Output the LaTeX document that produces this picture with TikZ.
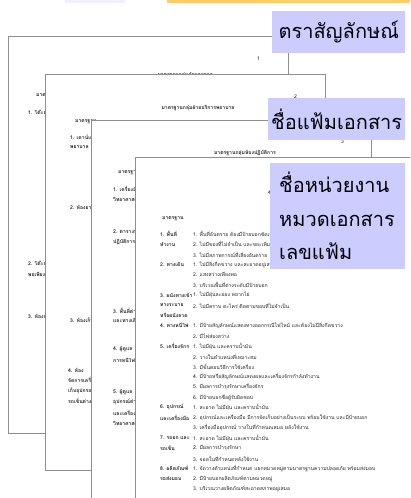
\documentclass[tikz,border=0pt]{standalone}
\usepackage{fontspec}
\newfontfamily\thaifont[Script=Thai]{Loma}
\definecolor{tagblue}{HTML}{CCCCFF}
\definecolor{bandyellow}{HTML}{FFCC66}
\definecolor{pageline}{HTML}{8E8E8E}

\begin{document}
\begin{tikzpicture}[x=1pt, y=-1pt,
  page/.style={shape=rectangle, draw=pageline, line width=1pt, fill=white, minimum width=280pt, anchor=north west, inner sep=0pt},
  small/.style={anchor=west, inner sep=0pt, text=black!85, font=\thaifont\fontsize{5.1}{5.5}\selectfont},
  smallb/.style={small, font=\thaifont\bfseries\fontsize{5.1}{5.5}\selectfont},
  tag/.style={shape=rectangle, fill=tagblue, anchor=north west, inner sep=0pt, align=left, font=\thaifont\fontsize{20}{33.5}\selectfont}]
\useasboundingbox (0,0) rectangle (410,498);
\clip (0,0) rectangle (410,498);

\fill[bandyellow] (167,0) rectangle (410,3);
\fill[blue!6!white] (65,0) rectangle (125,3);

% first sheet
\node [page, minimum height=397pt] (P1) at (8,36) {};
\node [small] (a0) at (257,59) {1};
\node [smallb, anchor=center] (a1) at (185,75.5) {มาตรฐานกลุ่มอำนวยการ};
\node [smallb] (a2) at (36,96) {มาตรฐาน};
\node [smallb] (a3) at (28,112) {1. โต๊ะทำงาน};
\node [smallb] (a4) at (28,264) {2. โต๊ะประชุม};
\node [smallb] (a5) at (28,274) {พอเพียง};
\node [smallb] (a6) at (28,316) {3. ห้องน้ำ};

% second sheet
\node [page, minimum height=396pt] (P2) at (45,74) {};
\node [small] (b0) at (294,97) {2};
\node [smallb, anchor=center] (b1) at (198,108) {มาตรฐานกลุ่มฝ่ายบริการพยาบาล};
\node [smallb] (b2) at (75,122) {มาตรฐาน};
\node [smallb] (b3) at (70,137) {1. เคาน์เตอร์};
\node [smallb] (b4) at (70,147) {พยาบาล};
\node [smallb] (b5) at (70,207) {2. ห้องยา};
\node [smallb] (b6) at (70,320) {3. ห้องเก็บของ};
\node [smallb] (b7) at (68,370) {4. ห้อง};
\node [smallb] (b8) at (68,380) {จัดการเครื่อง};
\node [smallb] (b9) at (68,391) {เก็บอุปกรณ์};
\node [smallb] (b10) at (68,402) {รถเข็นต่างๆ};

% third sheet
\node [page, minimum height=400pt] (P3) at (91,120) {};
\node [small] (c0) at (341,142) {3};
\node [smallb, anchor=center] (c1) at (245,153) {มาตรฐานกลุ่มห้องปฏิบัติการ};
\node [smallb] (c2) at (118,173) {มาตรฐาน};
\node [smallb] (c3) at (113,189) {1. เครื่องมือ};
\node [smallb] (c4) at (113,199) {วิทยาศาสตร์};
\node [smallb] (c5) at (113,231) {2. ตารางพื้นที่};
\node [smallb] (c6) at (113,242) {ปฏิบัติการ};
\node [smallb] (c7) at (113,311) {3. พื้นที่ต่างๆ};
\node [smallb] (c8) at (113,320) {และทางเดิน};
\node [smallb] (c9) at (113,349) {4. ผู้ดูแล};
\node [smallb] (c10) at (113,360) {การหนีไฟ};
\node [smallb] (c11) at (113,392) {5. ผู้ดูแล};
\node [smallb] (c12) at (113,402) {อุปกรณ์ต่างๆ};
\node [smallb] (c13) at (113,413) {และเครื่องมือ};
\node [smallb] (c14) at (113,423) {วิทยาศาสตร์};

% front sheet
\node [page, minimum height=400pt] (P4) at (135,157) {};
\node [small] (d0) at (268,193) {4};
\node [smallb] (d1) at (162,219) {มาตรฐาน};
\node [smallb] (k1) at (160,234) {1. พื้นที่};
\node [small] (r1) at (193,234) {1. พื้นที่อันตราย ต้องมีป้ายบอกชัดเจน};
\node [smallb] (k2) at (160,244.2) {ทำงาน};
\node [small] (r2) at (193,244.2) {2. ไม่มีของที่ไม่จำเป็น และขยะเพิ่มเติม};
\node [small] (r3) at (193,254.4) {3. ไม่มีสภาพการณ์ที่เสี่ยงอันตราย};
\node [smallb] (k4) at (160,264.6) {2. ทางเดิน};
\node [small] (r4) at (193,264.6) {1. ไม่มีสิ่งกีดขวาง และสะอาดอยู่เสมอ};
\node [small] (r5) at (193,274.8) {2. แสงสว่างเพียงพอ};
\node [small] (r6) at (193,285) {3. บริเวณพื้นที่ต่างระดับมีป้ายบอก};
\node [smallb] (k7) at (160,295.2) {3. ผนังทางเข้า};
\node [small] (r7) at (193,295.2) {1. ไม่มีฝุ่นละออง หยากไย่};
\node [smallb] (k8) at (160,305.4) {ทางระบาย};
\node [small] (r8) at (193,305.4) {2. ไม่มีคราบ ตะไคร่ ติดตามขอบที่ไม่จำเป็น};
\node [smallb] (k9) at (160,315.6) {หรือผนังลวด};
\node [smallb] (k10) at (160,325.8) {4. ทางหนีไฟ};
\node [small] (r10) at (193,325.8) {1. มีป้ายสัญลักษณ์แสดงทางออกกรณีไฟไหม้ และต้องไม่มีสิ่งกีดขวาง};
\node [small] (r11) at (193,336) {2. มีไฟส่องสว่าง};
\node [smallb] (k12) at (160,346.2) {5. เครื่องจักร};
\node [small] (r12) at (193,346.2) {1. ไม่มีฝุ่น และคราบน้ำมัน};
\node [small] (r13) at (193,356.4) {2. วางในตำแหน่งที่เหมาะสม};
\node [small] (r14) at (193,366.6) {3. มีขั้นตอนวิธีการใช้เครื่อง};
\node [small] (r15) at (193,376.8) {4. มีป้ายหรือสัญลักษณ์แสดงผลและเครื่องจักรกำลังทำงาน};
\node [small] (r16) at (193,387) {5. มีผลการบำรุงรักษาเครื่องจักร};
\node [small] (r17) at (193,397.2) {6. มีป้ายบอกชื่อผู้รับผิดชอบ};
\node [smallb] (k18) at (160,407.4) {6. อุปกรณ์};
\node [small] (r18) at (193,407.4) {1. สะอาด ไม่มีฝุ่น และคราบน้ำมัน};
\node [smallb] (k19) at (160,417.6) {และเครื่องมือ};
\node [small] (r19) at (193,417.6) {2. อุปกรณ์และเครื่องมือ มีการจัดเก็บอย่างเป็นระบบ พร้อมใช้งาน และมีป้ายบอก};
\node [small] (r20) at (193,427.8) {3. เครื่องมืออุปกรณ์ วางในที่กำหนดเสมอ หลังใช้งาน};
\node [smallb] (k21) at (160,438) {7. รถยก และ};
\node [small] (r21) at (193,438) {1. สะอาด ไม่มีฝุ่น และคราบน้ำมัน};
\node [smallb] (k22) at (160,448.2) {รถเข็น};
\node [small] (r22) at (193,448.2) {2. มีผลการบำรุงรักษา};
\node [small] (r23) at (193,458.4) {3. จอดในที่กำหนดหลังใช้งาน};
\node [smallb] (k24) at (160,468.6) {8. ผลิตภัณฑ์};
\node [small] (r24) at (193,468.6) {1. จัดวางตำแหน่งที่กำหนด แยกหมวดหมู่ตามมาตรฐานความปลอดภัย พร้อมส่งมอบ};
\node [smallb] (k25) at (160,478.8) {รอส่งมอบ};
\node [small] (r25) at (193,478.8) {2. มีป้ายบอกผลิตภัณฑ์ตามหมวดหมู่};
\node [small] (r26) at (193,489) {3. บริเวณวางผลิตภัณฑ์สะอาดสภาพอยู่เสมอ};

% labels
\node [tag, minimum width=133pt, minimum height=42pt] (logo) at (272,11) {ตราสัญลักษณ์};
\node [tag, minimum width=137pt, minimum height=42pt] (filename) at (268,98) {ชื่อแฟ้มเอกสาร};
\node [tag, text width=117pt, inner xsep=9pt, minimum height=106pt] (unit) at (270,163) {ชื่อหน่วยงาน\\หมวดเอกสาร\\เลขแฟ้ม};
\end{tikzpicture}
\end{document}
